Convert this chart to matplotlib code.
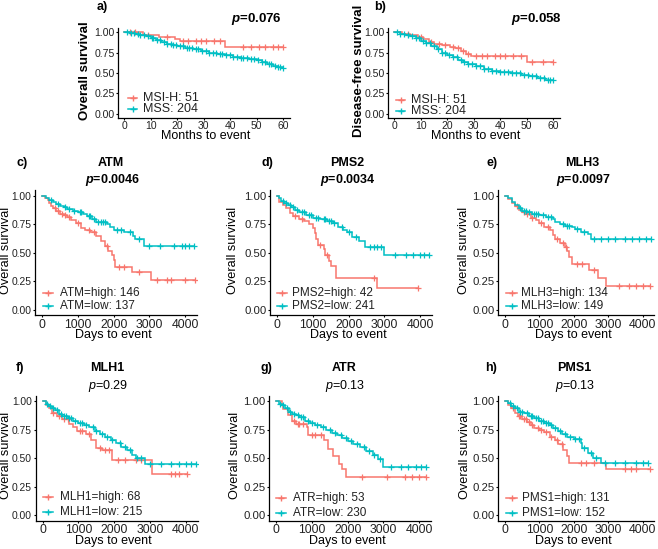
import numpy as np
import matplotlib
matplotlib.use("Agg")
import matplotlib.pyplot as plt
from matplotlib.lines import Line2D

plt.rcParams['font.family'] = ['Liberation Sans', 'DejaVu Sans']
plt.rcParams['mathtext.fontset'] = 'custom'
plt.rcParams['mathtext.rm'] = 'Liberation Sans'
plt.rcParams['mathtext.it'] = 'Liberation Sans:italic'
plt.rcParams['mathtext.bf'] = 'Liberation Sans:bold'
plt.rcParams['mathtext.bfit'] = 'Liberation Sans:italic:bold'

RED = '#F8766D'
TEAL = '#00BFC4'

# ---------------- data (step times, survival after step, censor times) ----------------
# a) Overall survival, months
a_msih_t = [0, 7, 13, 19, 21, 38]
a_msih_s = [1.0, 0.97, 0.94, 0.91, 0.89, 0.82]
a_msih_c = [2, 4, 9, 16, 22, 24, 27, 29, 31, 34, 36, 45, 48, 51, 53, 56, 58, 60]
a_mss_t = [0, 2, 4, 6, 8, 10, 12, 14, 16, 18, 20, 23, 26, 29, 32, 35, 38, 41, 44, 47, 50, 52, 54, 56, 58, 60]
a_mss_s = [1.0, 0.99, 0.98, 0.965, 0.95, 0.93, 0.905, 0.885, 0.86, 0.84, 0.825, 0.81, 0.79, 0.77, 0.75,
           0.735, 0.72, 0.70, 0.685, 0.67, 0.655, 0.63, 0.61, 0.59, 0.575, 0.565]
a_mss_c = [1, 2.5, 3.5, 5, 6, 7.5, 9, 10.5, 11, 12.5, 13.5, 15, 16, 17.5, 18.5, 19.5, 21, 22, 23.5, 24.5,
           25.5, 27, 28, 29.5, 31, 32, 33.5, 34.5, 36, 37, 38.5, 40, 41, 42.5, 44, 45, 46.5, 48, 49, 50.5,
           52, 53, 54.5, 55.5, 57, 58, 59, 60]

# b) Disease-free survival, months
b_msih_t = [0, 3, 6, 9, 11, 13, 15, 18, 21, 23, 25, 27, 29, 50]
b_msih_s = [1.0, 0.98, 0.96, 0.94, 0.92, 0.88, 0.86, 0.84, 0.82, 0.80, 0.77, 0.73, 0.71, 0.635]
b_msih_c = [5, 10, 14, 17, 19, 22, 24, 26, 28, 31, 33, 35, 38, 40, 42, 45, 48, 52, 56, 60]
b_mss_t = [0, 2, 4, 6, 8, 10, 12, 14, 16, 18, 20, 22, 24, 26, 28, 31, 34, 37, 40, 44, 48, 51, 54, 57, 59]
b_mss_s = [1.0, 0.98, 0.965, 0.95, 0.925, 0.895, 0.865, 0.83, 0.79, 0.75, 0.715, 0.69, 0.665, 0.64,
           0.615, 0.585, 0.555, 0.53, 0.51, 0.495, 0.475, 0.46, 0.44, 0.42, 0.41]
b_mss_c = [1, 2, 3.5, 5, 6.5, 8, 9.5, 11, 12, 13.5, 15, 16.5, 18, 19, 20.5, 22, 23.5, 25, 26.5, 28, 29.5,
           31, 32.5, 34, 35.5, 37, 38.5, 40, 41.5, 43, 44.5, 46, 47.5, 49, 50.5, 52, 53.5, 55, 56.5, 58, 59, 60]

# c) ATM, days
c_hi_t = [0, 80, 150, 200, 250, 300, 400, 500, 600, 700, 800, 950, 1100, 1200, 1350, 1500, 1650, 1750,
          1850, 1950, 2000, 2050, 2500, 3050]
c_hi_s = [1.0, 0.985, 0.965, 0.94, 0.91, 0.89, 0.87, 0.845, 0.83, 0.815, 0.79, 0.76, 0.72, 0.70, 0.68,
          0.65, 0.60, 0.56, 0.52, 0.48, 0.44, 0.375, 0.33, 0.265]
c_hi_c = [350, 450, 550, 650, 750, 1000, 1300, 1450, 1800, 2150, 2300, 2700, 3200, 3500, 3600, 4000, 4280]
c_lo_t = [0, 100, 200, 300, 400, 500, 600, 700, 850, 1000, 1150, 1250, 1400, 1500, 1800, 1900, 2000,
          2300, 2550, 2600, 2850]
c_lo_s = [1.0, 0.985, 0.965, 0.95, 0.93, 0.915, 0.90, 0.885, 0.87, 0.855, 0.84, 0.82, 0.80, 0.775, 0.75,
          0.725, 0.70, 0.68, 0.645, 0.62, 0.56]
c_lo_c = [250, 450, 650, 750, 900, 1050, 1100, 1300, 1350, 1450, 1550, 1650, 1700, 1750, 2100, 2200,
          2450, 2700, 3000, 3300, 3700, 3900, 4000, 4100, 4250]

# d) PMS2
d_hi_t = [0, 60, 150, 250, 350, 450, 600, 750, 900, 1000, 1050, 1100, 1150, 1300, 1350, 1450, 1500,
          1650, 2800]
d_hi_s = [1.0, 0.95, 0.92, 0.89, 0.85, 0.82, 0.80, 0.78, 0.75, 0.72, 0.67, 0.62, 0.57, 0.53, 0.48,
          0.43, 0.38, 0.28, 0.19]
d_hi_c = [500, 700, 1200, 1400, 2700, 3950]
d_lo_t = [0, 50, 100, 200, 300, 400, 500, 600, 800, 1000, 1200, 1400, 1550, 1700, 1850, 1950, 2100,
          2300, 2450, 3000]
d_lo_s = [1.0, 0.98, 0.96, 0.94, 0.92, 0.90, 0.875, 0.86, 0.83, 0.81, 0.80, 0.78, 0.76, 0.73, 0.70,
          0.68, 0.64, 0.60, 0.55, 0.48]
d_lo_c = [150, 250, 350, 450, 550, 700, 750, 900, 950, 1100, 1150, 1300, 1350, 1450, 1500, 1600, 1800,
          2000, 2200, 2600, 2700, 2800, 2900, 3300, 3600, 3800, 4000, 4100, 4250]

# e) MLH3
e_hi_t = [0, 100, 200, 300, 400, 500, 600, 750, 900, 1000, 1150, 1300, 1400, 1450, 1600, 1750, 1800,
          1850, 1950, 2450, 2700, 2950]
e_hi_s = [1.0, 0.97, 0.94, 0.91, 0.88, 0.86, 0.84, 0.81, 0.79, 0.76, 0.73, 0.70, 0.66, 0.62, 0.59,
          0.55, 0.52, 0.46, 0.40, 0.345, 0.28, 0.21]
e_hi_c = [350, 550, 650, 800, 1050, 1250, 1500, 1700, 1780, 2100, 2250, 2600, 3300, 3600, 3800, 4000, 4200]
e_lo_t = [0, 100, 200, 300, 400, 500, 650, 800, 1000, 1200, 1400, 1450, 1600, 1750, 1950, 2050, 2200,
          2400, 2500]
e_lo_s = [1.0, 0.98, 0.95, 0.92, 0.89, 0.87, 0.855, 0.84, 0.83, 0.815, 0.80, 0.77, 0.755, 0.74, 0.725,
          0.71, 0.68, 0.665, 0.62]
e_lo_c = [450, 550, 600, 700, 850, 900, 950, 1100, 1250, 1350, 1700, 1800, 1850, 2100, 2300, 2600, 2800,
          3000, 3200, 3500, 3700, 3900, 4100, 4250]

# f) MLH1
f_hi_t = [0, 100, 180, 250, 400, 550, 750, 850, 950, 1200, 1350, 1500, 1650, 1950, 3050]
f_hi_s = [1.0, 0.97, 0.94, 0.90, 0.87, 0.84, 0.80, 0.77, 0.735, 0.71, 0.66, 0.59, 0.575, 0.48, 0.36]
f_hi_c = [300, 450, 600, 700, 1050, 1100, 1300, 1600, 1750, 1850, 2100, 2300, 2600, 2750, 3600, 3700,
          3800, 4050]
f_lo_t = [0, 80, 150, 250, 350, 450, 550, 700, 850, 1000, 1150, 1300, 1450, 1600, 1750, 1900, 2050, 2200,
          2350, 2500, 2600, 2850]
f_lo_s = [1.0, 0.98, 0.96, 0.94, 0.92, 0.89, 0.87, 0.85, 0.83, 0.81, 0.79, 0.77, 0.74, 0.71, 0.69, 0.66,
          0.63, 0.60, 0.57, 0.53, 0.50, 0.45]
f_lo_c = [120, 200, 300, 400, 500, 600, 650, 750, 800, 900, 1050, 1100, 1200, 1400, 1500, 1650, 1800,
          1950, 2150, 2300, 2450, 2650, 2750, 3000, 3300, 3600, 3800, 4000, 4150, 4300]

# g) ATR
g_hi_t = [0, 150, 200, 330, 430, 550, 850, 900, 1350, 1450, 1600, 1750, 1850, 1950]
g_hi_s = [1.0, 0.97, 0.935, 0.875, 0.83, 0.80, 0.77, 0.70, 0.655, 0.58, 0.52, 0.45, 0.40, 0.335]
g_hi_c = [500, 600, 650, 750, 1000, 1100, 1250, 2400, 3100, 3600, 3800, 4000, 4200]
g_lo_t = [0, 80, 150, 250, 350, 450, 550, 650, 800, 950, 1100, 1250, 1400, 1550, 1700, 1850, 2000, 2150,
          2350, 2500, 2700, 2850, 3000]
g_lo_s = [1.0, 0.98, 0.965, 0.94, 0.91, 0.89, 0.875, 0.86, 0.83, 0.81, 0.79, 0.77, 0.75, 0.72, 0.70,
          0.675, 0.65, 0.62, 0.60, 0.56, 0.53, 0.49, 0.425]
g_lo_c = [100, 200, 300, 400, 500, 600, 700, 750, 900, 1000, 1150, 1300, 1500, 1650, 1800, 1950, 2100,
          2250, 2450, 2600, 2750, 2900, 3200, 3500, 3700, 3900, 4050, 4200]

# h) PMS1
h_hi_t = [0, 100, 180, 280, 370, 500, 650, 750, 850, 1000, 1150, 1300, 1450, 1550, 1700, 1800, 1850, 2950]
h_hi_s = [1.0, 0.97, 0.94, 0.90, 0.87, 0.845, 0.82, 0.79, 0.765, 0.745, 0.73, 0.69, 0.66, 0.62, 0.575,
          0.52, 0.46, 0.40]
h_hi_c = [250, 400, 450, 550, 600, 700, 800, 950, 1050, 1200, 1350, 1500, 1650, 2200, 2350, 2600, 3500,
          3650, 3800, 4200]
h_lo_t = [0, 80, 180, 280, 400, 550, 700, 850, 1000, 1150, 1300, 1400, 1550, 1650, 1800, 2000, 2200,
          2250, 2400, 2550, 2800]
h_lo_s = [1.0, 0.985, 0.96, 0.94, 0.91, 0.895, 0.87, 0.85, 0.83, 0.81, 0.79, 0.765, 0.74, 0.71, 0.69,
          0.665, 0.63, 0.59, 0.545, 0.50, 0.455]
h_lo_c = [150, 250, 350, 450, 500, 650, 750, 800, 900, 950, 1050, 1100, 1200, 1250, 1350, 1450, 1600,
          1750, 1900, 2050, 2150, 2300, 2500, 2650, 2900, 3200, 3500, 3800, 4000, 4150]

y_ticks = [0.0, 0.25, 0.5, 0.75, 1.0]
y_ticklabels = ['0.00', '0.25', '0.50', '0.75', '1.00']
month_ticks = [0, 10, 20, 30, 40, 50, 60]
day_ticks = [0, 1000, 2000, 3000, 4000]

# ---------------- figure ----------------
W, H = 658, 549
fig = plt.figure(figsize=(W / 100, H / 100), dpi=100)


def px_axes(left, top, width, height):
    return fig.add_axes([left / W, 1 - (top + height) / H, width / W, height / H])


def ftext(x, y, s, **kw):
    kw.setdefault('ha', 'center')
    kw.setdefault('va', 'center')
    fig.text(x / W, 1 - y / H, s, **kw)


def km(ax, t, s, cens, color):
    t = np.asarray(t, float)
    s = np.asarray(s, float)
    cens = np.asarray(cens, float)
    tend = max(t.max(), cens.max())
    ax.step(np.append(t, tend), np.append(s, s[-1]), where='post', color=color, lw=1.1,
            solid_joinstyle='miter')
    idx = np.searchsorted(t, cens, side='right') - 1
    ax.plot(cens, s[idx], '+', color=color, ms=4.5, mew=0.9, ls='none')


def style(ax, xlim, xticks, fs_y, fs_x):
    ax.set_ylim(-0.05, 1.05)
    ax.set_xlim(*xlim)
    ax.set_yticks(y_ticks)
    ax.set_yticklabels(y_ticklabels)
    ax.set_xticks(xticks)
    for sp in ('top', 'right'):
        ax.spines[sp].set_visible(False)
    for sp in ('left', 'bottom'):
        ax.spines[sp].set_linewidth(0.9)
        ax.spines[sp].set_color('black')
    ax.tick_params(length=1.5, width=0.8, pad=1, colors='black', labelcolor='#222222')
    ax.tick_params(axis='y', labelsize=fs_y)
    ax.tick_params(axis='x', labelsize=fs_x)
    ax.patch.set_alpha(0)


def legend_entry(x0, x1, xt, y, color, label, fs):
    yy = 1 - y / H
    fig.add_artist(Line2D([x0 / W, x1 / W], [yy, yy], transform=fig.transFigure, color=color, lw=1.1))
    fig.add_artist(Line2D([(x0 + x1) / 2 / W], [yy], transform=fig.transFigure, color=color,
                          marker='+', ms=5, mew=1.0, ls='none'))
    fig.text(xt / W, yy, label, ha='left', va='center', fontsize=fs, color='#222222')


# ---- top panels a, b ----
top_specs = [
    (118, 'a)', 102, 256, r'$\mathbfit{p}$=0.076', 85, 'Overall survival',
     (a_msih_t, a_msih_s, a_msih_c), (a_mss_t, a_mss_s, a_mss_c), (128, 137, 143, 98, 109)),
    (388, 'b)', 380, 536, r'$\mathbfit{p}$=0.058', 359, 'Disease-free survival',
     (b_msih_t, b_msih_s, b_msih_c), (b_mss_t, b_mss_s, b_mss_c), (396, 405, 411, 100, 111)),
]
for left, lab, labx, px, ptxt, ylx, ylab, red, teal, leg in top_specs:
    ax = px_axes(left, 28, 172, 90)
    km(ax, *red, RED)
    km(ax, *teal, TEAL)
    style(ax, (-2.4, 62.6), month_ticks, 7.6, 7.5)
    ftext(labx, 7, lab, fontsize=9, fontweight='bold')
    ftext(px, 19, ptxt, fontsize=9.5, fontweight='bold')
    ftext(ylx, 71, ylab, fontsize=9.5, fontweight='bold', rotation=90)
    ftext(left + 88, 136, 'Months to event', fontsize=9)
    x0, x1, xt, y1, y2 = leg
    legend_entry(x0, x1, xt, y1, RED, 'MSI-H: 51', 9)
    legend_entry(x0, x1, xt, y2, TEAL, 'MSS: 204', 9)

# ---- gene panels c-h ----
gene_specs = [
    (35, 190.3, 162, 'c)', 22, 'ATM', 111, r'$\mathbfit{p}$=0.0046', True, 6, 7.4,
     (43, 53, 60, 293, 306), ('ATM=high: 146', 'ATM=low: 137'),
     (c_hi_t, c_hi_s, c_hi_c), (c_lo_t, c_lo_s, c_lo_c)),
    (270, 190.3, 162, 'd)', 267, 'PMS2', 347, r'$\mathbfit{p}$=0.0034', True, 233, 8.2,
     (277, 287, 292, 293, 306), ('PMS2=high: 42', 'PMS2=low: 241'),
     (d_hi_t, d_hi_s, d_hi_c), (d_lo_t, d_lo_s, d_lo_c)),
    (498, 190.3, 156, 'e)', 492, 'MLH3', 582, r'$\mathbfit{p}$=0.0097', True, 464, 8.2,
     (506, 517, 521, 293, 306), ('MLH3=high: 134', 'MLH3=low: 149'),
     (e_hi_t, e_hi_s, e_hi_c), (e_lo_t, e_lo_s, e_lo_c)),
    (35.5, 395.6, 162, 'f)', 20, 'MLH1', 107, r'$\mathit{p}$=0.29', False, 6.5, 7.4,
     (43, 53, 60, 497, 512), ('MLH1=high: 68', 'MLH1=low: 215'),
     (f_hi_t, f_hi_s, f_hi_c), (f_lo_t, f_lo_s, f_lo_c)),
    (269, 395.6, 162, 'g)', 266, 'ATR', 344, r'$\mathit{p}$=0.13', False, 235, 8.2,
     (276, 286, 293, 498, 513), ('ATR=high: 53', 'ATR=low: 230'),
     (g_hi_t, g_hi_s, g_hi_c), (g_lo_t, g_lo_s, g_lo_c)),
    (498, 395.6, 156, 'h)', 491, 'PMS1', 574, r'$\mathit{p}$=0.13', False, 465, 8.2,
     (506, 517, 522, 498, 513), ('PMS1=high: 131', 'PMS1=low: 152'),
     (h_hi_t, h_hi_s, h_hi_c), (h_lo_t, h_lo_s, h_lo_c)),
]
for (left, top, width, letter, lx, gene, gx, ptxt, boldp, ylx, yfs, leg, labels, hi, lo) in gene_specs:
    ax = px_axes(left, top, width, 125)
    km(ax, *hi, RED)
    km(ax, *lo, TEAL)
    style(ax, (-200, 4330), day_ticks, yfs, 8.8)
    ty = top - 27.5
    ftext(lx, ty, letter, fontsize=9, fontweight='bold')
    ftext(gx, ty, gene, fontsize=9, fontweight='bold')
    ftext(gx + 1, ty + 17.5, ptxt, fontsize=9, fontweight='bold' if boldp else 'normal')
    ftext(ylx, top + 60, 'Overall survival', fontsize=9.2, rotation=90)
    ftext(left + width / 2 - 3, top + 145, 'Days to event', fontsize=9)
    x0, x1, xt, y1, y2 = leg
    legend_entry(x0, x1, xt, y1, RED, labels[0], 8.5)
    legend_entry(x0, x1, xt, y2, TEAL, labels[1], 8.5)

fig.savefig('out.png', dpi=100)
